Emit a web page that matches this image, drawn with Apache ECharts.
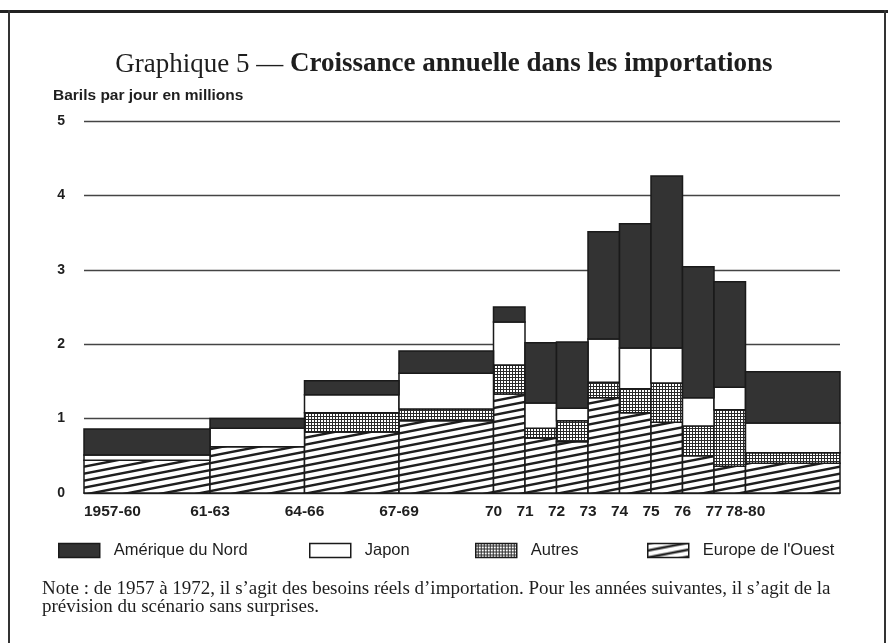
<!DOCTYPE html>
<html><head><meta charset="utf-8">
<script src="https://cdn.jsdelivr.net/npm/echarts@6/dist/echarts.min.js"></script>
<style>html,body{margin:0;padding:0;background:#fff}#c{width:888px;height:643px}</style>
</head><body><div id="c"></div>
<script>
// ---- data (millions of barrels per day) ----
const periods      = ['1957-60','61-63','64-66','67-69','70','71','72','73','74','75','76','77','78-80'];
const periodStart  = [1957, 1961, 1964, 1967, 1970, 1971, 1972, 1973, 1974, 1975, 1976, 1977, 1978];
const periodEnd    = [1961, 1964, 1967, 1970, 1971, 1972, 1973, 1974, 1975, 1976, 1977, 1978, 1981];
const europeOuest  = [0.44, 0.62, 0.82, 0.97, 1.33, 0.74, 0.69, 1.28, 1.08, 0.95, 0.50, 0.36, 0.40];
const autres       = [0.00, 0.00, 0.26, 0.16, 0.39, 0.13, 0.28, 0.21, 0.32, 0.53, 0.40, 0.76, 0.14];
const japon        = [0.07, 0.25, 0.24, 0.48, 0.58, 0.34, 0.17, 0.58, 0.55, 0.47, 0.38, 0.30, 0.40];
const ameriqueNord = [0.35, 0.13, 0.19, 0.30, 0.20, 0.81, 0.89, 1.44, 1.67, 2.31, 1.76, 1.42, 0.69];
const yTicks = [0, 1, 2, 3, 4, 5];

// ---- fill patterns ----
function hatchCanvas() {
  const W = 36, H = 7, c = document.createElement('canvas');
  c.width = W; c.height = H;
  const g = c.getContext('2d');
  g.fillStyle = '#fff'; g.fillRect(0, 0, W, H);
  g.strokeStyle = '#1e1e1e'; g.lineWidth = 2.4;
  for (const dy of [-H, 0, H]) {
    g.beginPath();
    g.moveTo(-6, H + 6 * H / W + dy);
    g.lineTo(W + 6, -6 * H / W + dy);
    g.stroke();
  }
  return c;
}
function dotCanvas() {
  const c = document.createElement('canvas');
  c.width = 3; c.height = 3;
  const g = c.getContext('2d');
  g.fillStyle = '#2a2a2a'; g.fillRect(0, 0, 3, 3);
  g.fillStyle = '#fff'; g.fillRect(0, 0, 2, 2);
  return c;
}
const hatchFill = { image: hatchCanvas(), repeat: 'repeat' };
const dotFill = { image: dotCanvas(), repeat: 'repeat' };
const darkFill = '#333333';
const whiteFill = '#ffffff';
const EDGE = '#1a1a1a';

const layers = [
  { name: "Europe de l'Ouest", values: europeOuest, fill: hatchFill },
  { name: 'Autres', values: autres, fill: dotFill },
  { name: 'Japon', values: japon, fill: whiteFill },
  { name: 'Amérique du Nord', values: ameriqueNord, fill: darkFill }
];

let base = periods.map(() => 0);
const series = layers.map(layer => {
  const data = layer.values.map((v, i) => [periodStart[i], periodEnd[i], base[i], base[i] + v]);
  base = base.map((b, i) => b + layer.values[i]);
  const fill = layer.fill;
  return {
    type: 'custom',
    name: layer.name,
    data: data,
    encode: { x: [0, 1], y: [2, 3] },
    itemStyle: { color: fill, borderColor: EDGE, borderWidth: 1.5 },
    renderItem: function (params, api) {
      const x0 = api.value(0), x1 = api.value(1), y0 = api.value(2), y1 = api.value(3);
      if (y1 - y0 <= 1e-6) return null;
      const a = api.coord([x0, y1]);
      const b = api.coord([x1, y0]);
      return {
        type: 'rect',
        shape: { x: a[0], y: a[1], width: b[0] - a[0], height: b[1] - a[1] },
        style: { fill: fill, stroke: EDGE, lineWidth: 1.5 }
      };
    }
  };
});

function legendFor(name, fill, left) {
  return {
    left: left, top: 542, padding: 0, selectedMode: false,
    itemWidth: 41, itemHeight: 14, icon: 'rect',
    data: [{ name: name, icon: 'rect', itemStyle: { color: fill, borderColor: EDGE, borderWidth: 1.5 } }],
    textStyle: { fontFamily: 'Liberation Sans', fontSize: 16.5, color: '#1e1e1e', padding: [0, 0, 0, 9] }
  };
}

const chart = echarts.init(document.getElementById('c'), null, { renderer: 'canvas' });
chart.setOption({
  animation: false,
  backgroundColor: '#ffffff',
  title: [
    {
      text: '{r|Graphique 5 — }{b|Croissance annuelle dans les importations}',
      left: 'center', top: 46,
      textStyle: {
        fontWeight: 'normal',
        rich: {
          r: { fontFamily: 'Liberation Serif', fontSize: 27, fontWeight: 'normal', color: '#1e1e1e' },
          b: { fontFamily: 'Liberation Serif', fontSize: 27, fontWeight: 'bold', color: '#1e1e1e' }
        }
      }
    },
    {
      text: 'Barils par jour en millions', left: 53, top: 88, padding: 0,
      textStyle: { fontFamily: 'Liberation Sans', fontSize: 15.5, fontWeight: 'bold', color: '#1e1e1e' }
    },
    {
      text: 'Note : de 1957 à 1972, il s’agit des besoins réels d’importation. Pour les années suivantes, il s’agit de la\nprévision du scénario sans surprises.',
      left: 42, top: 580, padding: 0,
      textStyle: { fontFamily: 'Liberation Serif', fontSize: 19, fontWeight: 'normal', lineHeight: 18, color: '#1e1e1e' }
    }
  ],
  legend: [
    legendFor('Amérique du Nord', darkFill, 58),
    legendFor('Japon', whiteFill, 309),
    legendFor('Autres', dotFill, 475),
    legendFor("Europe de l'Ouest", hatchFill, 647)
  ],
  grid: { left: 84, right: 48, top: 121, bottom: 150 },
  xAxis: {
    type: 'value', min: periodStart[0], max: periodEnd[periodEnd.length - 1],
    axisLine: { show: true, lineStyle: { color: EDGE, width: 1.5 } },
    axisTick: { show: false },
    splitLine: { show: false },
    axisLabel: {
      customValues: periodStart,
      formatter: function (v) { const i = periodStart.indexOf(v); return i >= 0 ? periods[i] : ''; },
      alignMinLabel: 'left',
      fontFamily: 'Liberation Sans', fontSize: 15.5, fontWeight: 'bold', color: '#1e1e1e', margin: 11
    }
  },
  yAxis: {
    type: 'value', min: yTicks[0], max: yTicks[yTicks.length - 1], interval: 1,
    axisLine: { show: false }, axisTick: { show: false },
    axisLabel: { fontFamily: 'Liberation Sans', fontSize: 14, fontWeight: 'bold', color: '#1e1e1e', margin: 19 },
    splitLine: { lineStyle: { color: '#444', width: 1.3 } }
  },
  graphic: [
    { type: 'rect', shape: { x: 0, y: 10, width: 888, height: 3 }, style: { fill: '#222' } },
    { type: 'rect', shape: { x: 8, y: 10, width: 2, height: 633 }, style: { fill: '#333' } },
    { type: 'rect', shape: { x: 884, y: 10, width: 2, height: 633 }, style: { fill: '#333' } }
  ],
  series: series
});
</script>
</body></html>
